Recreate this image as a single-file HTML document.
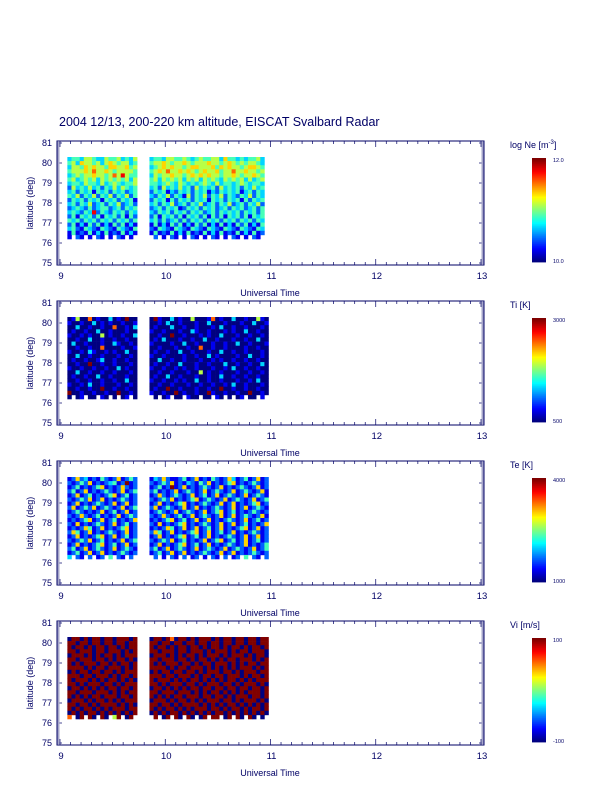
<!DOCTYPE html>
<html><head><meta charset="utf-8">
<style>
html,body{margin:0;padding:0;background:#fff;}
svg{display:block;font-family:"Liberation Sans",sans-serif;}
</style></head>
<body>
<svg id="c" width="612" height="792" viewBox="0 0 612 792" xmlns="http://www.w3.org/2000/svg">
<text x="59" y="126" font-size="12.5" fill="#000066">2004 12/13, 200-220 km altitude, EISCAT Svalbard Radar</text>
</svg>
<script>
// ---- data ----
const startTime = 9.07;      // UT hours of first column
const timeStep = 0.039;      // UT hours per column
const topLat = 80.3;         // latitude of first row
const latStep = 0.205;       // degrees per row
const xTicks = [9, 10, 11, 12, 13];
const yTicks = [75, 76, 77, 78, 79, 80, 81];
const panelTitles = ["log Ne [m", "Ti [K]", "Te [K]", "Vi [m/s]"];
const cbarMax = ["12.0", "3000", "4000", "100"];
const cbarMin = ["10.0", "500", "1000", "-100"];
// digits 0-9 = normalised colour level; '.' = no data
const neRows = [
"34435543354453435...3443554454345445536443434453",
"45365545356545534...4556545565455565545654545543",
"35546565546655645...3456565545665556465655456654",
"45556575565455554...4565755656545655645575565545",
"34545565545758544...3545565545656565545565455654",
"45345453545454535...4535454535453545435454535345",
"34435443534543445...4434543543434543534434543443",
"25343534243535434...3425343534253434253434243534",
"34243414342434234...2434132434243413243434134243",
"43524352435243524...3243524315243524352432435243",
"24342434143424341...2434142434243414342434142434",
"34243523424352342...3424352342435234243523424352",
"23432423442342434...2342434124342434234243423424",
"34324382432434243...3243424342434234243434243424",
"24143424143424142...2414342414342414241434241434",
"43424342434243424...3424234242434243424342434243",
"24131424131424131...1413142413142413141314241314",
"34214321432143214...2143214321432143214321432143",
"14121413141214131...1412141314121413141214131412",
"1.21.1.21.1.21.1.....2.1.21.1.21.1.21.1.21.1.21."];
const tiRows = [
"01500701003010900...09100301005000170100300100510",
"10010030101001001...00103001000100300010001003001",
"00300100100700103...01000300100100010300100100010",
"01001003001000100...10010001003100100010100300100",
"10010100501001003...00100900100010100300010010010",
"00100300100100100...01030001001003001000100100300",
"03001000100310010...10000100300100010010030010001",
"00100100700001001...00100010010070010010000100100",
"10010310010100300...01001003001000100300100100010",
"00300100100010010...10010000100100301000010030010",
"01001001300100100...00300100100010010100100100100",
"00100900100100010...01001003000100100030010010030",
"10010010010030100...10010010100100010010300100100",
"00300100100100010...00100100010050100100010010010",
"01001003001000100...01003001000100100300100100100",
"00100100100100300...10010010100300100100010010300",
"10010300100010010...00100100010010010010300100010",
"00100100900100100...01009001000100100900100100100",
"90010010010090010...10010090100100910010010090010",
"0.01.00.10.0.01.0....0.01.00.100.00.10.0.01.00.1."];
const teRows = [
"12623121421261242...13262112412612142126312412612",
"21242612123412912...21242612132142612124612124212",
"12412124612126212...12412912612124212612124212612",
"24126121242126124...24121261242126124212612421261",
"12612412124612412...12621242126124126124212612421",
"21242612612124212...21242612124612421261242126124",
"12612124212612612...12612124612124212612612124612",
"26124261242126124...26124212612612124212612612421",
"12421212612412612...12421261242126124612412124212",
"21262124121261242...21262124126124212612612421261",
"12124612612412126...12124612412612612124212612412",
"21612124212612412...21612124612124212612612412126",
"12126412612124612...12126412612612412612124612612",
"26412612124212612...26412612124612612412612124212",
"12612124612612412...12612124612412612124212612612",
"21242612412126124...21242612412126124612412612412",
"12612124612412612...12612124612412612124212612124",
"24126124212612421...24126124212612421261242126124",
"12412612612124212...12412612612124212612612124212",
"3.21.2.12.4.21.2.....2.1.21.2.12.1.21.2.12.4.21.2."];
const viRows = [
"09909099099099909...09909709909099909099099099099",
"99099099099099099...99099099099099099099099099099",
"90990909909909099...90990909909909099090990909909",
"99099909909990909...99099909909990909990909909990",
"09990909099090999...09990909099090999090999090990",
"99099909909099090...99099909909099090909909990909",
"90909990990909909...90909990990909909990909099099",
"99990909909990909...99990909909990909090909990909",
"09099099099090999...09099099099090999099090999099",
"99909909990909909...99909909990909909909990909909",
"90999090909909090...90999090909909090909909090999",
"99090999099090999...99090999099090999099090999090",
"09909090909909909...09909090909909909909909909909",
"99099909990909099...99099909990909099090909099909",
"90909099099909909...90909099099909909909099909909",
"09990909909090999...09990909909090999099090999090",
"99099090999909090...99099090999909090909909090909",
"90909909090999099...90909909090999099090990909909",
"09090990909090909...09090990909090909909090909090",
"7.09.90.90.59.09.....9.09.90.90.09.99.09.90.90.0."];
const panels = [neRows, tiRows, teRows, viRows];

// ---- drawing ----
const svg = document.getElementById('c');
const NS = 'http://www.w3.org/2000/svg';
const NAVY = '#000066';
function mk(tag, attrs, parent) {
  const e = document.createElementNS(NS, tag);
  for (const k in attrs) e.setAttribute(k, attrs[k]);
  (parent || svg).appendChild(e);
  return e;
}
function jet(v) {
  const r = Math.max(0, Math.min(1, 1.5 - Math.abs(4 * v - 3)));
  const g = Math.max(0, Math.min(1, 1.5 - Math.abs(4 * v - 2)));
  const b = Math.max(0, Math.min(1, 1.5 - Math.abs(4 * v - 1)));
  return `rgb(${Math.round(r*255)},${Math.round(g*255)},${Math.round(b*255)})`;
}
const boxL = 57, boxR = 484, boxH = 124, panelGap = 160, firstTop = 141;
function xScale(t) { return 60 + (t - 9) * 105.25; }
function yScale(lat, top) { return top + (81.1 - lat) * 20; }

panels.forEach((rows, p) => {
  const top = firstTop + p * panelGap;
  const g = mk('g', {});
  
  
  const cw = xScale(startTime + timeStep) - xScale(startTime) + 0.3;
  const ch = yScale(0, top) - yScale(latStep, top) + 0.3;
  rows.forEach((row, r) => {
    for (let c = 0; c < row.length; c++) {
      const ch_ = row[c];
      if (ch_ < '0' || ch_ > '9') continue;
      const t = startTime + c * timeStep;
      const lat = topLat - r * latStep;
      const cell = mk('rect', {x: xScale(t).toFixed(2), y: yScale(lat, top).toFixed(2), width: cw.toFixed(2), height: ch.toFixed(2), fill: jet(+ch_ / 9)}, g);
      
      
    }
  });
  const box = mk('rect', {x: boxL, y: top, width: boxR - boxL, height: boxH, fill: 'none', stroke: NAVY, 'stroke-width': 1}, g);
  
  
  for (let v = 75; v <= 81.001; v += 0.1) {
    const y = yScale(v, top);
    const major = Math.abs(v - Math.round(v)) < 0.01;
    const len = major ? 5 : 2.5;
    mk('line', {x1: boxL, x2: boxL + len, y1: y, y2: y, stroke: NAVY, 'stroke-width': 0.7}, g);
    mk('line', {x1: boxR, x2: boxR - len, y1: y, y2: y, stroke: NAVY, 'stroke-width': 0.7}, g);
  }
  yTicks.forEach(v => {
    const t = mk('text', {x: 52, y: yScale(v, top) + 3, 'font-size': 9, 'text-anchor': 'end', fill: NAVY}, g);
    t.textContent = v;
    
    
  });
  for (let v = 9; v <= 13.001; v += 0.1) {
    const x = xScale(v);
    const major = Math.abs(v - Math.round(v)) < 0.01;
    const len = major ? 6 : 3;
    mk('line', {x1: x, x2: x, y1: top + boxH, y2: top + boxH - len, stroke: NAVY, 'stroke-width': 0.7}, g);
    mk('line', {x1: x, x2: x, y1: top, y2: top + len, stroke: NAVY, 'stroke-width': 0.7}, g);
  }
  xTicks.forEach(v => {
    const t = mk('text', {x: xScale(v) + 1, y: top + boxH + 14, 'font-size': 9.5, 'text-anchor': 'middle', fill: NAVY}, g);
    t.textContent = v;
    
    
  });
  const xt = mk('text', {x: 270, y: top + boxH + 31, 'font-size': 9, 'text-anchor': 'middle', fill: NAVY}, g);
  xt.textContent = 'Universal Time';
  
  
  const yt = mk('text', {x: 0, y: 0, 'font-size': 9, 'text-anchor': 'middle', fill: NAVY, transform: `translate(33,${top + 62}) rotate(-90)`}, g);
  yt.textContent = 'latitude (deg)';
  
  
  const cbTop = top + 17, cbH = 104;
  const cb = mk('g', {}, g);
  
  
  for (let i = 0; i < 52; i++) {
    mk('rect', {x: 532, y: (cbTop + cbH - (i + 1) * cbH / 52).toFixed(2), width: 14, height: (cbH / 52 + 0.4).toFixed(2), fill: jet(i / 51)}, cb);
  }
  const tmax = mk('text', {x: 553, y: cbTop + 4, 'font-size': 5.5, fill: NAVY}, cb);
  tmax.textContent = cbarMax[p];
  
  
  const tmin = mk('text', {x: 553, y: cbTop + cbH + 1, 'font-size': 5.5, fill: NAVY}, cb);
  tmin.textContent = cbarMin[p];
  
  
  const ct = mk('text', {x: 510, y: top + 7, 'font-size': 9, fill: NAVY}, cb);
  ct.textContent = panelTitles[p];
  if (p === 0) {
    const sup = mk('tspan', {'font-size': 6, dy: -4}, ct);
    sup.textContent = '-3';
    const cl = mk('tspan', {'font-size': 9, dy: 4}, ct);
    cl.textContent = ']';
  }
  
  
});
</script>
</body></html>
